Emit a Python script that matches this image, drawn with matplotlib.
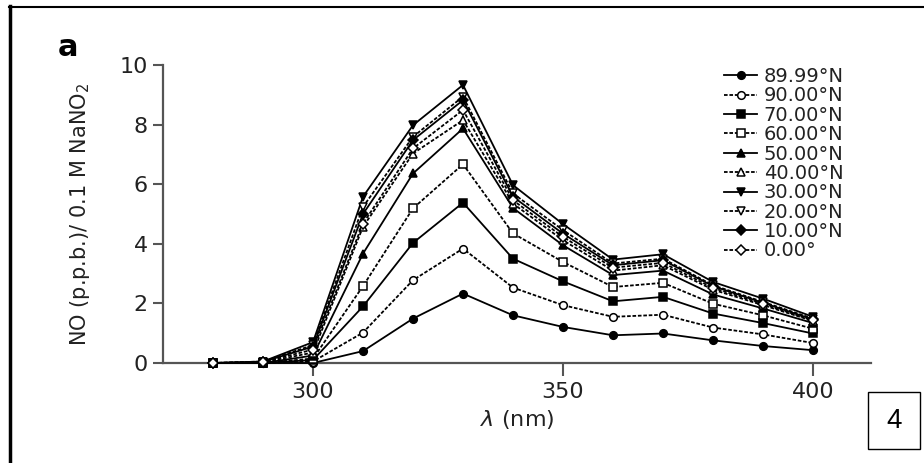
import matplotlib
matplotlib.use("Agg")
import matplotlib.pyplot as plt
from matplotlib.patches import Rectangle
from matplotlib.lines import Line2D

plt.rcParams["font.family"] = ["DejaVu Sans"]
plt.rcParams["mathtext.fontset"] = "dejavusans"

# wavelength (nm)
wavelength = [280, 290, 300, 310, 320, 330, 340, 350, 360, 370, 380, 390, 400]

# NO (p.p.b.) per latitude
lat_8999 = [0.0, 0.0, 0.0, 0.40, 1.49, 2.33, 1.60, 1.21, 0.93, 0.99, 0.76, 0.57, 0.43]
lat_90 = [0.0, 0.0, 0.05, 1.02, 2.78, 3.84, 2.53, 1.94, 1.55, 1.62, 1.19, 0.96, 0.67]
lat_70 = [0.0, 0.0, 0.10, 1.90, 4.03, 5.38, 3.50, 2.74, 2.07, 2.22, 1.66, 1.34, 0.99]
lat_60 = [0.0, 0.0, 0.15, 2.58, 5.19, 6.67, 4.35, 3.39, 2.55, 2.69, 1.99, 1.60, 1.15]
lat_50 = [0.0, 0.0, 0.25, 3.67, 6.36, 7.87, 5.20, 3.95, 2.95, 3.10, 2.30, 1.83, 1.34]
lat_40 = [0.0, 0.02, 0.35, 4.57, 7.03, 8.15, 5.35, 4.12, 3.10, 3.28, 2.46, 1.94, 1.41]
lat_30 = [0.0, 0.05, 0.70, 5.58, 7.98, 9.33, 5.97, 4.66, 3.47, 3.65, 2.72, 2.16, 1.55]
lat_20 = [0.0, 0.05, 0.60, 5.24, 7.59, 8.94, 5.69, 4.46, 3.34, 3.50, 2.61, 2.05, 1.49]
lat_10 = [0.0, 0.04, 0.55, 5.00, 7.48, 8.82, 5.58, 4.34, 3.28, 3.45, 2.58, 2.02, 1.46]
lat_0 = [0.0, 0.03, 0.45, 4.68, 7.20, 8.49, 5.46, 4.23, 3.20, 3.36, 2.52, 1.98, 1.43]

labels = ["89.99°N", "90.00°N", "70.00°N", "60.00°N", "50.00°N",
          "40.00°N", "30.00°N", "20.00°N", "10.00°N", "0.00°"]
series = [lat_8999, lat_90, lat_70, lat_60, lat_50,
          lat_40, lat_30, lat_20, lat_10, lat_0]
markers = ["o", "o", "s", "s", "^", "^", "v", "v", "D", "D"]

fig = plt.figure(figsize=(9.24, 4.63), dpi=100)
ax = fig.add_axes([163 / 924, 1 - 363 / 463, (871 - 163) / 924, (363 - 65) / 463])

for i, (vals, lab, mk) in enumerate(zip(series, labels, markers)):
    filled = i % 2 == 0
    ax.plot(wavelength, vals, color="black", lw=1.3,
            ls="-" if filled else (0, (2, 1)),
            marker=mk, ms=5.5 if mk != "D" else 4.6,
            mfc="black" if filled else "white", mec="black", mew=1.1,
            label=lab, clip_on=False, zorder=3 + i * 0.1)

ax.set_xlim(270, 411.6)
ax.set_ylim(0, 10)
ax.set_xticks([300, 350, 400])
ax.set_yticks([0, 2, 4, 6, 8, 10])
for s in ["top", "right"]:
    ax.spines[s].set_visible(False)
for s in ["left", "bottom"]:
    ax.spines[s].set_color("#555555")
    ax.spines[s].set_linewidth(1.6)
ax.tick_params(axis="y", length=7, width=1.5, color="#555555",
               labelsize=16, labelcolor="#222222", pad=4)
ax.tick_params(axis="x", length=9, width=1.5, color="#555555",
               labelsize=16, labelcolor="#222222", pad=5)

ax.set_ylabel("NO (p.p.b.)/ 0.1 M NaNO$_2$", fontsize=15, color="#222222",
              labelpad=20)
ax.set_xlabel(r"$\lambda$ (nm)", fontsize=16, color="#222222", labelpad=4)

leg = ax.legend(loc="upper left", bbox_to_anchor=(724 / 924, 1 - 67 / 463),
                bbox_transform=fig.transFigure, frameon=False, fontsize=14,
                labelspacing=0.02, handlelength=1.7, handletextpad=0.35,
                borderpad=0, borderaxespad=0)
for t in leg.get_texts():
    t.set_color("#222222")

fig.text(58 / 924, 1 - 56 / 463, "a", fontsize=22, fontweight="bold",
         ha="left", va="baseline")

# surrounding frame
fig.add_artist(Line2D([9 / 924, 1], [1 - 7 / 463, 1 - 7 / 463],
                      transform=fig.transFigure, color="black", lw=1.5))
fig.add_artist(Line2D([9.5 / 924, 9.5 / 924], [1 - 6 / 463, 0],
                      transform=fig.transFigure, color="black", lw=2.5))

# page number box
fig.add_artist(Rectangle((868 / 924, 1 - 449 / 463), 52 / 924, 57 / 463,
                         transform=fig.transFigure, fill=False,
                         edgecolor="black", lw=1.0))
fig.text(894 / 924, 1 - 421 / 463, "4", fontsize=20, family="Liberation Sans",
         ha="center", va="center")

fig.savefig("out.png", dpi=100)
